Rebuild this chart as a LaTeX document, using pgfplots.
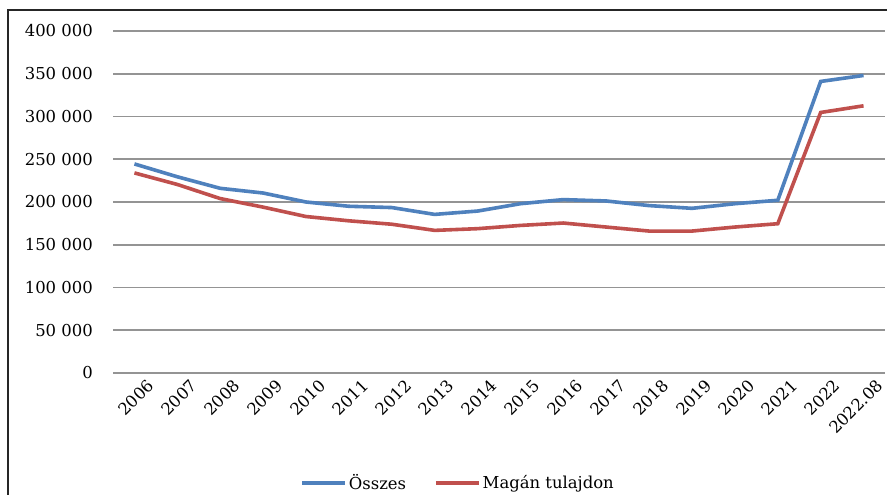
\documentclass[border=0pt]{standalone}
\usepackage{fontspec}
\setmainfont{DejaVu Serif}
\usepackage{pgfplots}
\pgfplotsset{compat=1.18}

\definecolor{osszes}{RGB}{79,129,189}
\definecolor{magan}{RGB}{192,80,77}

\pgfplotstableread{
x  osszes  magan
0  244500  234000
1  229500  220500
2  216000  204000
3  210500  194000
4  200000  183000
5  195000  178000
6  193500  174000
7  185500  166800
8  189400  168800
9  198000  172600
10 202800  175400
11 201200  170700
12 195800  166000
13 192600  166000
14 198000  170700
15 202000  174600
16 341000  304700
17 348000  312500
}\lakas

\begin{document}
\begin{tikzpicture}
\useasboundingbox (0,0) rectangle (887bp,495bp);
\fill[white] (0,0) rectangle (887bp,495bp);
\draw[line width=1.2bp, black!85] (8bp,0) -- (8bp,485bp) -- (887bp,485bp);
\begin{axis}[
    at={(113bp,122bp)}, anchor=south west,
    scale only axis,
    width=772bp, height=342bp,
    xmin=-0.5, xmax=17.5,
    ymin=0, ymax=400000,
    ytick={0,50000,100000,150000,200000,250000,300000,350000,400000},
    yticklabels={0,50 000,100 000,150 000,200 000,250 000,300 000,350 000,400 000},
    scaled y ticks=false,
    xtick={0,...,17},
    xticklabels={2006,2007,2008,2009,2010,2011,2012,2013,2014,2015,2016,2017,2018,2019,2020,2021,2022,2022.08},
    x tick label style={rotate=45, anchor=north east, inner sep=1bp, yshift=-11bp, xshift=6bp},
    y tick label style={inner sep=0bp, xshift=-20bp},
    tick label style={font=\fontsize{16.5}{19}\selectfont},
    major tick length=0pt,
    axis line style={draw=none},
    ymajorgrids,
    grid style={line width=1.6bp, black!42},
    legend columns=2,
    legend style={
        at={(axis description cs:0.447,0)}, anchor=center, yshift=-110bp,
        draw=none, fill=none,
        font=\fontsize{16.5}{19}\selectfont,
        inner sep=0pt,
        /tikz/every even column/.append style={column sep=26bp},
        nodes={inner sep=2bp}
    },
    legend image code/.code={\draw[#1] (0bp,0bp) -- (43bp,0bp);},
]
\addplot[osszes, line width=3.6bp] table[x=x, y=osszes] {\lakas};
\addlegendentry{Összes}
\addplot[magan, line width=3.6bp] table[x=x, y=magan] {\lakas};
\addlegendentry{Magán tulajdon}
\end{axis}
\end{tikzpicture}
\end{document}
